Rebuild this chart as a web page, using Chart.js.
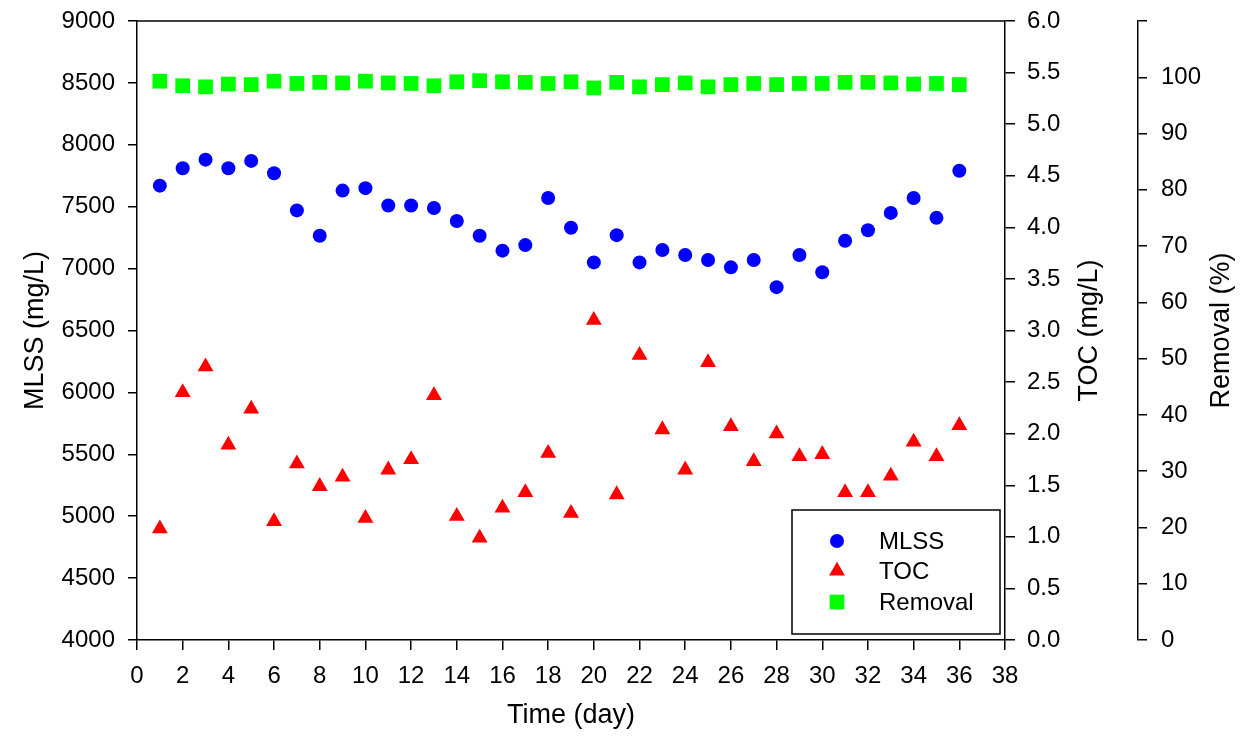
<!DOCTYPE html>
<html>
<head>
<meta charset="utf-8">
<script src="https://cdn.jsdelivr.net/npm/chart.js@4.4.1/dist/chart.umd.min.js"></script>
<style>
  body { margin: 0; background: #fff; }
  #wrap { width: 1250px; height: 736px; }
</style>
</head>
<body>
<div id="wrap"><canvas id="mlssChart" width="1250" height="736"></canvas></div>
<script>
// Data
const days = [1, 2, 3, 4, 5, 6, 7, 8, 9, 10, 11, 12, 13, 14, 15, 16, 17, 18,
              19, 20, 21, 22, 23, 24, 25, 26, 27, 28, 29, 30, 31, 32, 33, 34, 35, 36];

const mlss = [7670, 7810, 7880, 7810, 7870, 7770, 7470, 7265, 7630, 7650, 7510, 7510,
              7490, 7385, 7265, 7145, 7190, 7570, 7330, 7050, 7270, 7050, 7150, 7110,
              7070, 7010, 7070, 6850, 7110, 6970, 7225, 7310, 7450, 7570, 7410, 7790];

const toc = [1.08, 2.40, 2.65, 1.89, 2.24, 1.15, 1.71, 1.49, 1.58, 1.18, 1.65, 1.75,
             2.37, 1.20, 0.99, 1.28, 1.43, 1.81, 1.23, 3.10, 1.41, 2.76, 2.04, 1.65,
             2.69, 2.07, 1.73, 2.00, 1.78, 1.80, 1.43, 1.43, 1.59, 1.92, 1.78, 2.08];

const removal = [99.3, 98.5, 98.3, 98.8, 98.7, 99.3, 98.9, 99.1, 99.0, 99.3, 99.0, 98.9,
                 98.5, 99.2, 99.4, 99.2, 99.1, 98.9, 99.2, 98.1, 99.1, 98.3, 98.7, 99.0,
                 98.3, 98.7, 98.9, 98.7, 98.9, 98.9, 99.1, 99.1, 99.0, 98.8, 98.9, 98.7];

const FONT = 'Liberation Sans, Arial, sans-serif';
Chart.defaults.color = '#000';
Chart.defaults.font.family = FONT;

function toPoints(ys) {
    return days.map((d, i) => ({ x: d, y: ys[i] }));
}

// force the box sizes so the plot area lands where the original one is
function fixSize(size, horizontal) {
    return scale => {
        if (horizontal) {
            scale.height = size;
            scale.paddingLeft = 0;
            scale.paddingRight = 0;
        } else {
            scale.width = size;
            scale.paddingTop = 0;
            scale.paddingBottom = 0;
        }
    };
}

const axisGrid = (len) => ({
    drawOnChartArea: false,
    drawTicks: true,
    tickLength: len,
    color: '#000',
    lineWidth: 1.5
});
const axisBorder = { display: true, color: '#000', width: 1.5 };
const tickFont = { size: 24, family: FONT };

// right-hand axis titles read bottom-to-top, plus the top frame line and boxed legend
const extras = {
    id: 'extras',
    afterDraw(chart) {
        const ctx = chart.ctx;
        const area = chart.chartArea;
        const s1 = chart.scales.y1, s2 = chart.scales.y2;

        ctx.save();
        ctx.strokeStyle = '#000';
        ctx.lineWidth = 1.5;
        ctx.beginPath();
        ctx.moveTo(area.left, area.top);
        ctx.lineTo(area.right, area.top);
        ctx.stroke();

        ctx.fillStyle = '#000';
        ctx.font = '27px ' + FONT;
        ctx.textAlign = 'center';
        ctx.textBaseline = 'middle';
        const midY = (area.top + area.bottom) / 2;
        [[s1, 85, 'TOC (mg/L)'], [s2, 84, 'Removal (%)']].forEach(([s, off, txt]) => {
            ctx.save();
            ctx.translate(s.left + off, midY);
            ctx.rotate(-Math.PI / 2);
            ctx.fillText(txt, 0, 0);
            ctx.restore();
        });

        // legend box
        const boxW = 208, boxH = 124;
        const bx = area.right - 5 - boxW, by = area.bottom - 6 - boxH;
        ctx.lineWidth = 1.5;
        ctx.strokeRect(bx, by, boxW, boxH);
        const rows = [31, 61, 92];
        ctx.font = '24px ' + FONT;
        ctx.textAlign = 'left';
        chart.data.datasets.forEach((ds, i) => {
            const y = by + rows[i];
            ctx.fillStyle = ds.pointBackgroundColor;
            Chart.helpers.drawPoint(ctx, {
                pointStyle: ds.pointStyle,
                radius: ds.pointRadius,
                rotation: 0,
                borderWidth: 0
            }, bx + 45, y);
            ctx.fillStyle = '#000';
            ctx.fillText(ds.label, bx + 87, y + 1);
        });
        ctx.restore();
    }
};

new Chart(document.getElementById('mlssChart'), {
    type: 'scatter',
    data: {
        datasets: [
            {
                label: 'MLSS',
                data: toPoints(mlss),
                yAxisID: 'y',
                pointStyle: 'circle',
                pointRadius: 7,
                pointBackgroundColor: '#0000ff',
                pointBorderWidth: 0
            },
            {
                label: 'TOC',
                data: toPoints(toc),
                yAxisID: 'y1',
                pointStyle: 'triangle',
                pointRadius: 9.2,
                pointBackgroundColor: '#ff0000',
                pointBorderWidth: 0
            },
            {
                label: 'Removal',
                data: toPoints(removal),
                yAxisID: 'y2',
                pointStyle: 'rect',
                pointRadius: 10.4,
                pointBackgroundColor: '#00ff00',
                pointBorderWidth: 0
            }
        ]
    },
    options: {
        responsive: false,
        animation: false,
        layout: { padding: { top: 21, left: 0, right: 0, bottom: 0 } },
        plugins: {
            legend: { display: false },
            tooltip: { enabled: false }
        },
        scales: {
            x: {
                type: 'linear',
                position: 'bottom',
                min: 0,
                max: 38,
                grid: axisGrid(10),
                border: axisBorder,
                ticks: {
                    stepSize: 2,
                    padding: 12,
                    maxRotation: 0,
                    autoSkip: false,
                    font: tickFont,
                    callback: v => String(v)
                },
                title: {
                    display: true,
                    text: 'Time (day)',
                    font: { size: 27, family: FONT },
                    padding: { top: 0, bottom: 4 }
                },
                afterFit: fixSize(96, true)
            },
            y: {
                position: 'left',
                min: 4000,
                max: 9000,
                grid: axisGrid(9),
                border: axisBorder,
                ticks: {
                    stepSize: 500,
                    padding: 13,
                    font: tickFont,
                    callback: v => String(v)
                },
                title: {
                    display: true,
                    text: 'MLSS (mg/L)',
                    font: { size: 27, family: FONT },
                    padding: { top: 19, bottom: 0 }
                },
                afterFit: fixSize(137, false)
            },
            y1: {
                position: 'right',
                min: 0,
                max: 6,
                grid: axisGrid(10),
                border: axisBorder,
                ticks: {
                    stepSize: 0.5,
                    padding: 12,
                    font: tickFont,
                    callback: v => v.toFixed(1)
                },
                afterFit: fixSize(133, false)
            },
            y2: {
                position: 'right',
                min: 0,
                max: 110,
                grid: axisGrid(9),
                border: axisBorder,
                ticks: {
                    stepSize: 10,
                    padding: 14,
                    font: tickFont,
                    callback: v => (v > 100 ? '' : String(v))
                },
                afterFit: fixSize(112, false)
            }
        }
    },
    plugins: [extras]
});
</script>
</body>
</html>
